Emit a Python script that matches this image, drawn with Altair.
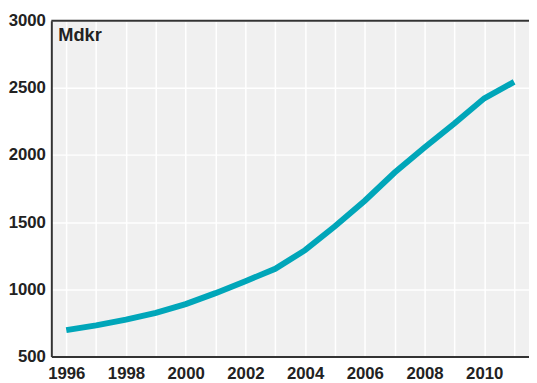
import altair as alt
import pandas as pd

years = list(range(1996, 2012))
values = [696, 732, 774, 825, 890, 972, 1061, 1153, 1292, 1470, 1660, 1870, 2056, 2234, 2422, 2544]
y_ticks = [500, 1000, 1500, 2000, 2500, 3000]
unit_label = "Mdkr"

df = pd.DataFrame({"year": years, "value": values})

FONT = "Liberation Sans"
TXT = "#222222"

x_enc = alt.X("year:Q", scale=alt.Scale(domain=[1995.5, 2011.5], nice=False, zero=False),
              axis=alt.Axis(values=years, format="d",
                            labelExpr="datum.value % 2 == 0 ? datum.label : ''",
                            title=None, grid=True, gridColor="white", gridWidth=1.5,
                            ticks=False, domain=True, domainColor="#333333", domainWidth=2,
                            labelFont=FONT, labelFontSize=17, labelFontWeight="bold",
                            labelColor=TXT, labelPadding=9, labelFlush=False))
y_enc = alt.Y("value:Q", scale=alt.Scale(domain=[500, 3000], nice=False, zero=False),
              axis=alt.Axis(values=y_ticks, format="d", title=None, grid=True,
                            gridColor="white", gridWidth=1.5,
                            ticks=False, domain=True, domainColor="#333333", domainWidth=2,
                            labelFont=FONT, labelFontSize=17, labelFontWeight="bold",
                            labelColor=TXT, labelPadding=6, labelFlush=False))

line = alt.Chart(df).mark_line(color="#00a6b9", strokeWidth=6, strokeCap="butt").encode(x=x_enc, y=y_enc)

top = alt.Chart(pd.DataFrame({"v": [3000]})).mark_rule(color="#333333", strokeWidth=2).encode(
    y=alt.Y("v:Q"), x=alt.value(0), x2=alt.value(485))

label = alt.Chart(pd.DataFrame({"t": [unit_label]})).mark_text(
    align="left", baseline="middle", font=FONT, fontSize=18.5, fontWeight="bold", color=TXT
).encode(text="t:N", x=alt.value(7), y=alt.value(15))

chart = alt.layer(line, top, label).properties(
    width=485, height=341,
    autosize=alt.AutoSizeParams(type="none"),
    padding={"left": 44, "top": 10, "right": 0, "bottom": 24},
    background="white",
).configure_view(fill="#f0f0f0", stroke=None)

chart.save("out.html", embed_options={"renderer": "svg", "actions": False})
